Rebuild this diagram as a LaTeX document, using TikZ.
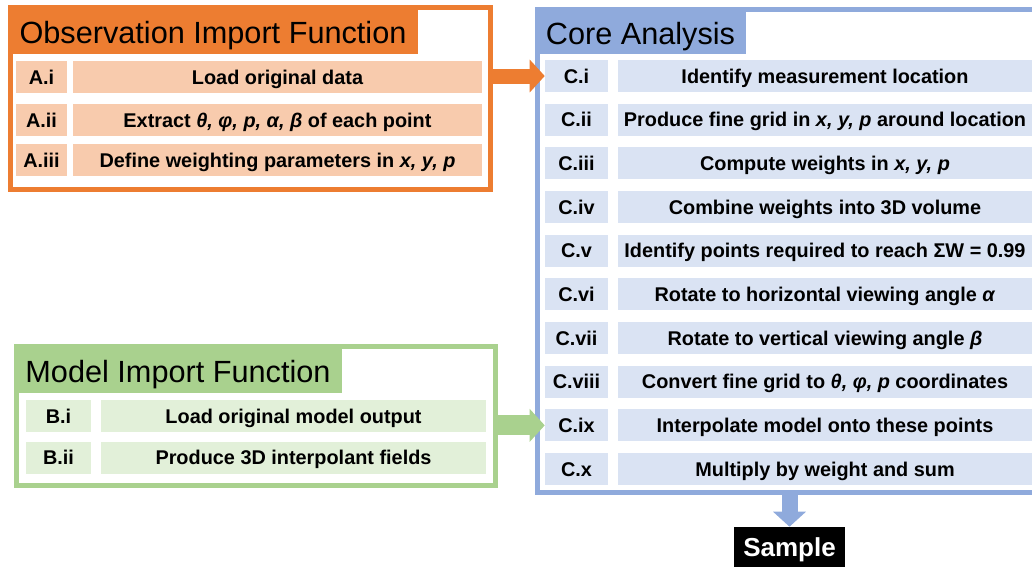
\documentclass[tikz,border=0pt]{standalone}
\usepackage{fontspec}
\setmainfont{Liberation Sans}
\usetikzlibrary{arrows.meta,positioning}
\definecolor{obsorange}{HTML}{ED7D31}
\definecolor{obsfill}{HTML}{F8CBAD}
\definecolor{coreblue}{HTML}{8FAADC}
\definecolor{corefill}{HTML}{DAE3F3}
\definecolor{modgreen}{HTML}{A9D18E}
\definecolor{modfill}{HTML}{E2F0D9}
\tikzset{
  frame/.style={draw=#1,line width=3.75pt,inner sep=0pt,outer sep=0pt},
  titlebar/.style={fill=#1,inner sep=0pt,text height=20.3pt,text depth=0pt,font=\fontsize{23}{26}\selectfont},
  row/.style={fill=#1,inner sep=0pt,minimum height=24pt,text height=10.7pt,text depth=0pt,font=\fontsize{14.9}{17}\selectfont\bfseries},
  fatarrow/.style={draw=#1,line width=11.25pt,-{Triangle[length=11.25pt,width=24pt,fill=#1]}},
}

\begin{document}
\begin{tikzpicture}[x=0.75pt,y=-0.75pt]
\clip (0,0) rectangle (1032,571);
% \draw[help lines] (0,0) grid (1032,571);
\node (obs) [frame=obsorange,minimum width=360pt,minimum height=136.5pt] at (250.5,98.5) {};
\node (obstitle) [titlebar=obsorange,minimum width=307.5pt,minimum height=36.75pt] at (213,29.5) {Observation Import Function};
\node (a1) [row=obsfill,minimum width=38.25pt] at (41.5,77) {A.i};
\node (at1) [row=obsfill,minimum width=306.75pt] at (277.5,77) {Load original data};
\node (a2) [row=obsfill,minimum width=38.25pt] at (41.5,120) {A.ii};
\node (at2) [row=obsfill,minimum width=306.75pt] at (277.5,120) {Extract \textit{θ, φ, p, α, β} of each point};
\node (a3) [row=obsfill,minimum width=38.25pt] at (41.5,160) {A.iii};
\node (at3) [row=obsfill,minimum width=306.75pt] at (277.5,160) {Define weighting parameters in \textit{x, y, p}};
%
\node (mod) [frame=modgreen,minimum width=359.6pt,minimum height=104.25pt] at (256.25,416) {};
\node (modtitle) [titlebar=modgreen,minimum width=246pt,minimum height=36.75pt] at (178,368.5) {Model Import Function};
\node (b1) [row=modfill,minimum width=48.75pt] at (58.5,416) {B.i};
\node (bt1) [row=modfill,minimum width=288.75pt] at (293.5,416) {Load original model output};
\node (b2) [row=modfill,minimum width=48.75pt] at (58.5,457.5) {B.ii};
\node (bt2) [row=modfill,minimum width=288.75pt] at (293.5,457.5) {Produce 3D interpolant fields};
%
\node (core) [frame=coreblue,minimum width=378pt,minimum height=362.6pt] at (789.5,251.25) {};
\node (coretitle) [titlebar=coreblue,minimum width=158.25pt,minimum height=35.25pt] at (640.5,30.5) {Core Analysis};
\foreach \i/\lab/\txt [evaluate=\i as \yc using 76+(\i-1)*43.67] in {
  1/C.i/{Identify measurement location},
  2/C.ii/{Produce fine grid in \textit{x, y, p} around location},
  3/C.iii/{Compute weights in \textit{x, y, p}},
  4/C.iv/{Combine weights into 3D volume},
  5/C.v/{Identify points required to reach ΣW = 0.99},
  6/C.vi/{Rotate to horizontal viewing angle \textit{α}},
  7/C.vii/{Rotate to vertical viewing angle \textit{β}},
  8/C.viii/{Convert fine grid to \textit{θ, φ, p} coordinates},
  9/C.ix/{Interpolate model onto these points},
  10/C.x/{Multiply by weight and sum}}{
  \node (c\i) [row=corefill,minimum width=47.25pt] at (576.5,\yc) {\lab};
  \node (ct\i) [row=corefill,minimum width=310.5pt] at (825,\yc) {\txt};
}
%
\node (sample) [fill=black,text=white,inner sep=0pt,minimum width=83.25pt,minimum height=30pt,text height=14pt,text depth=0pt,font=\fontsize{19.5}{22}\selectfont\bfseries] at (789.5,547) {Sample};
%
\path (obs.east |- c1.west) edge[fatarrow=obsorange] (c1.west);
\path (mod.east |- c9.west) edge[fatarrow=modgreen,line width=15pt] (c9.west);
\path (core.south) edge[fatarrow=coreblue,line width=12pt] (sample.north);
\end{tikzpicture}
\end{document}
